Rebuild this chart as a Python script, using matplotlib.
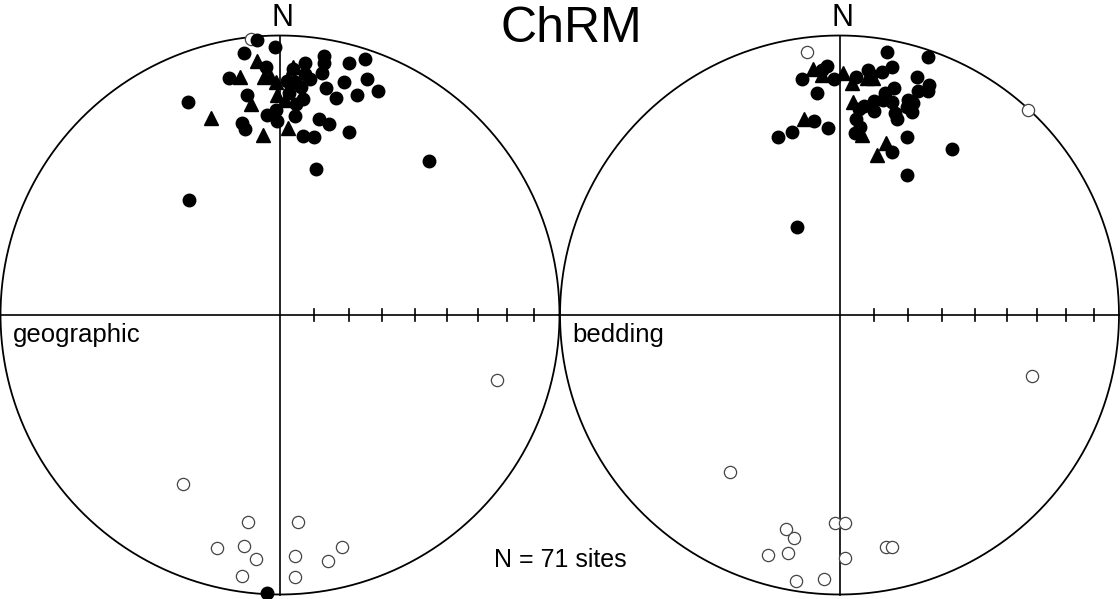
import numpy as np
import matplotlib.pyplot as plt

plt.rcParams['font.family'] = ['Liberation Sans', 'DejaVu Sans']

# site mean directions (declination, inclination) in degrees
# geographic coordinates
geo_circ_dec = [355.3, 359.0, 352.2, 356.8, 347.9, 3.1, 5.6, 9.7, 9.9, 15.4, 18.4, 9.9, 5.9, 7.3,
                1.8, 3.7, 5.3, 11.4, 15.4, 20.2, 23.7, 14.5, 19.4, 2.3, 6.0, 4.3, 351.5, 336.7,
                356.2, 358.9, 359.2, 348.7, 349.4, 4.2, 11.3, 14.3, 7.4, 10.8, 20.8, 14.0, 44.1,
                321.6, 182.7]
geo_circ_inc = [1.5, 4.8, 5.9, 12.2, 14.3, 13.0, 10.4, 6.6, 9.5, 7.3, 4.0, 13.2, 14.4, 16.1,
                17.4, 17.5, 19.3, 18.1, 14.7, 11.0, 13.6, 20.8, 17.8, 21.5, 23.3, 25.3, 21.5, 18.0,
                29.1, 27.5, 31.1, 30.5, 32.9, 29.3, 29.3, 30.2, 35.6, 35.4, 30.8, 45.3, 24.4,
                46.4, 0.3]
geo_tri_dec = [354.9, 350.5, 356.2, 357.6, 359.0, 2.9, 359.3, 1.3, 352.3, 340.6, 354.5, 2.5]
geo_tri_inc = [9.6, 14.7, 15.7, 15.5, 17.7, 12.1, 22.4, 24.1, 24.8, 26.3, 35.6, 33.6]
geo_up_dec = [354.0, 209.9, 188.9, 175.1, 195.0, 188.8, 185.7, 176.5, 165.1, 168.9, 188.3,
              176.7, 106.7]
geo_up_inc = [-1.0, -30.9, -26.1, -26.5, -14.6, -17.6, -13.3, -14.6, -15.1, -11.4, -6.2,
              -6.9, -20.1]

# tilt corrected (bedding) coordinates
bed_circ_dec = [10.3, 18.9, 357.1, 355.8, 351.0, 358.7, 4.0, 6.6, 7.4, 9.8, 12.0, 18.1, 21.3,
                21.6, 19.4, 13.5, 11.6, 13.8, 11.4, 9.2, 9.6, 6.8, 5.5, 17.7, 19.2, 17.9, 19.8,
                15.4, 16.4, 4.8, 6.2, 4.9, 354.1, 352.5, 356.4, 345.3, 340.9, 20.9, 17.7, 34.2,
                25.8, 334.2]
bed_circ_inc = [4.8, 2.7, 11.7, 13.2, 15.6, 16.6, 15.6, 12.8, 14.5, 12.7, 10.1, 11.3, 12.7,
                14.9, 16.1, 17.5, 20.1, 22.5, 22.6, 23.5, 26.8, 25.7, 26.7, 20.3, 20.7, 23.0,
                24.0, 26.1, 27.7, 30.4, 32.9, 34.8, 21.1, 30.6, 33.5, 32.9, 33.0, 32.5, 38.6,
                29.1, 43.6, 61.4]
bed_tri_dec = [353.9, 355.8, 0.9, 3.0, 6.6, 8.1, 3.7, 7.0, 349.8, 15.2, 13.1]
bed_tri_inc = [12.6, 15.0, 14.6, 17.9, 15.8, 15.6, 24.5, 35.4, 29.6, 36.5, 40.9]
bed_up_dec = [353.0, 42.6, 214.9, 181.2, 178.5, 194.0, 191.5, 192.1, 196.7, 178.7, 168.7,
              167.2, 189.2, 183.4, 107.6]
bed_up_inc = [-5.7, -0.4, -32.1, -26.6, -26.6, -22.1, -19.6, -13.9, -11.4, -14.0, -16.4,
              -16.1, -4.2, -6.1, -28.6]

tick_incs = [10, 20, 30, 40, 50, 60, 70, 80]
n_sites = 71


def eqarea(dec, inc):
    # Lambert equal-area (Schmidt) projection onto the unit circle
    dec = np.radians(np.asarray(dec, dtype=float))
    inc = np.radians(np.abs(np.asarray(inc, dtype=float)))
    r = np.sqrt(2) * np.sin((np.pi / 2 - inc) / 2)
    return r * np.sin(dec), r * np.cos(dec)


def draw_net(ax, circ, tri, up, label):
    t = np.linspace(0, 2 * np.pi, 400)
    ax.plot(np.cos(t), np.sin(t), color='black', lw=1.3, clip_on=False)
    ax.plot([-1, 1], [0, 0], color='black', lw=1.2, clip_on=False)
    ax.plot([0, 0], [-1, 1], color='black', lw=1.2, clip_on=False)
    tx, _ = eqarea(np.full(len(tick_incs), 90.0), tick_incs)
    for x in tx:
        ax.plot([x, x], [-0.021, 0.021], color='black', lw=1.2)

    # upper hemisphere = open, lower hemisphere = filled
    x, y = eqarea(*up)
    ax.plot(x, y, 'o', ms=8.8, mfc='white', mec='#444444', mew=0.9, clip_on=False, zorder=3)
    x, y = eqarea(*circ)
    ax.plot(x, y, 'o', ms=9, color='black', ls='none', clip_on=False, zorder=4)
    x, y = eqarea(*tri)
    ax.plot(x, y, '^', ms=10.5, color='black', ls='none', clip_on=False, zorder=4)

    ax.text(0.01, 1.034, 'N', ha='center', va='baseline', fontsize=22)
    ax.text(-0.957, -0.097, label, ha='left', va='baseline', fontsize=18.5)
    ax.set_xlim(-1, 1)
    ax.set_ylim(-1, 1)
    ax.axis('off')


fig = plt.figure(figsize=(11.2, 5.99), dpi=100)
W, H = 1120.0, 599.0
R = 279.5
ax1 = fig.add_axes([(280 - R) / W, (H - 315 - R) / H, 2 * R / W, 2 * R / H])
ax2 = fig.add_axes([(839.5 - R) / W, (H - 315 - R) / H, 2 * R / W, 2 * R / H])

draw_net(ax1, (geo_circ_dec, geo_circ_inc), (geo_tri_dec, geo_tri_inc),
         (geo_up_dec, geo_up_inc), 'geographic')
draw_net(ax2, (bed_circ_dec, bed_circ_inc), (bed_tri_dec, bed_tri_inc),
         (bed_up_dec, bed_up_inc), 'bedding')

fig.text(571 / W, 1 - 42 / H, 'ChRM', ha='center', va='baseline', fontsize=36)
fig.text(560 / W, 1 - 567 / H, 'N = %d sites' % n_sites, ha='center', va='baseline', fontsize=18)

fig.savefig('out.png', dpi=100)
